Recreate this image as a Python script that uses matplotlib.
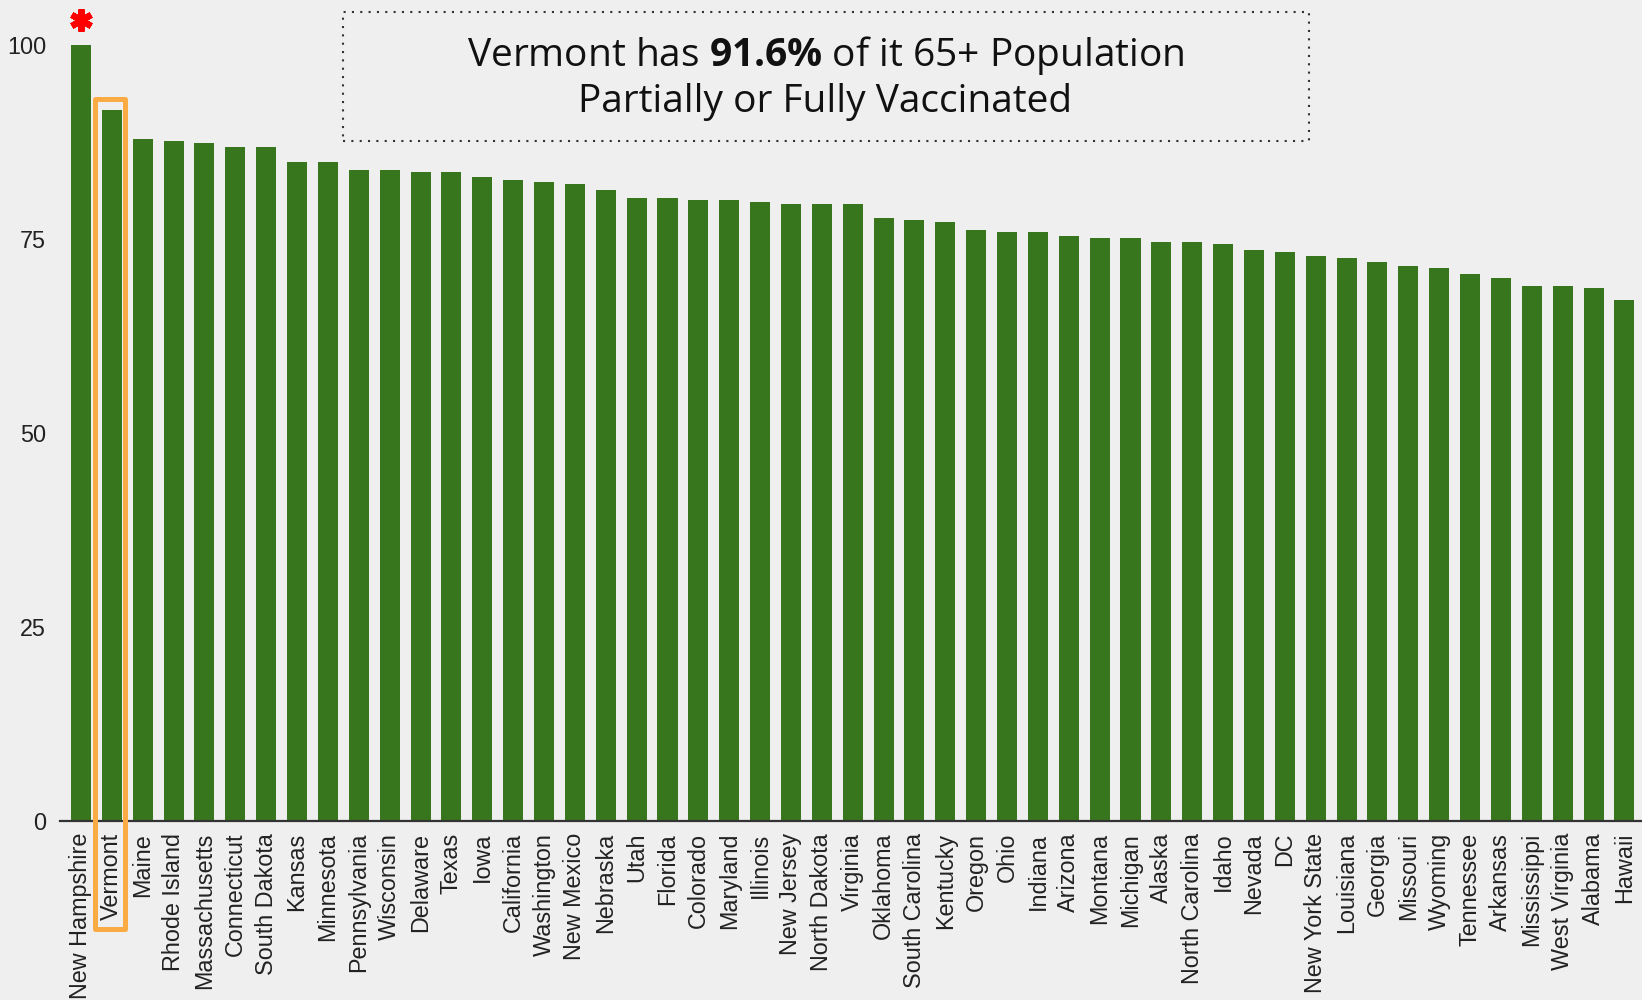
import matplotlib
matplotlib.use("Agg")
import matplotlib.pyplot as plt
from matplotlib.patches import Rectangle

states = ["New Hampshire", "Vermont", "Maine", "Rhode Island", "Massachusetts",
          "Connecticut", "South Dakota", "Kansas", "Minnesota", "Pennsylvania",
          "Wisconsin", "Delaware", "Texas", "Iowa", "California", "Washington",
          "New Mexico", "Nebraska", "Utah", "Florida", "Colorado", "Maryland",
          "Illinois", "New Jersey", "North Dakota", "Virginia", "Oklahoma",
          "South Carolina", "Kentucky", "Oregon", "Ohio", "Indiana", "Arizona",
          "Montana", "Michigan", "Alaska", "North Carolina", "Idaho", "Nevada",
          "DC", "New York State", "Louisiana", "Georgia", "Missouri", "Wyoming",
          "Tennessee", "Arkansas", "Mississippi", "West Virginia", "Alabama", "Hawaii"]

values = [100, 91.6, 87.8, 87.55, 87.3, 86.8, 86.8, 84.9, 84.9, 83.9,
          83.9, 83.6, 83.6, 82.9, 82.6, 82.35, 82.1, 81.3, 80.3, 80.3,
          80.0, 80.0, 79.8, 79.5, 79.5, 79.5, 77.7, 77.4, 77.2, 76.1,
          75.9, 75.9, 75.4, 75.1, 75.1, 74.6, 74.6, 74.3, 73.5, 73.3,
          72.8, 72.5, 72.0, 71.5, 71.2, 70.5, 69.9, 68.9, 68.9, 68.7, 67.1]

yticks = [0, 25, 50, 75, 100]
highlight = "Vermont"
starred = "New Hampshire"

BG = "#efefef"
GREEN = "#38761d"
ORANGE = "#fbab44"

plt.rcParams['mathtext.fontset'] = 'custom'
plt.rcParams['mathtext.rm'] = 'Open Sans'
plt.rcParams['mathtext.bf'] = 'Open Sans:bold'

W, H = 1642, 1000
fig = plt.figure(figsize=(W / 100, H / 100), dpi=100, facecolor=BG)
ax = fig.add_axes([60 / W, 1 - 821 / H, 1582 / W, (821 - 44.7) / H])
ax.set_facecolor(BG)

x = list(range(len(states)))
ax.bar(x, values, width=0.65, color=GREEN, zorder=2)

ax.set_xlim(-0.68, len(states) - 1 + 0.57)
ax.set_ylim(0, 100)
ax.set_yticks(yticks)
ax.set_yticklabels([str(t) for t in yticks])
ax.set_xticks(x)
ax.set_xticklabels(states, rotation=90, ha='center', va='top')

for s in ["top", "right", "left"]:
    ax.spines[s].set_visible(False)
ax.spines["bottom"].set_color("#333333")
ax.spines["bottom"].set_linewidth(1.6)
ax.spines["bottom"].set_zorder(3)

ax.tick_params(axis='both', length=0, colors="#222222")
ax.tick_params(axis='x', pad=8.5)
ax.tick_params(axis='y', pad=10)
for lab in ax.get_xticklabels() + ax.get_yticklabels():
    lab.set_fontfamily("Liberation Sans")
    lab.set_fontsize(16.8)
    lab.set_color("#222222")

# highlight box around Vermont
vi = states.index(highlight)
rect = Rectangle((vi - 0.54, -13.85), 0.97, values[vi] + 1.45 + 13.85,
                 fill=False, edgecolor=ORANGE, linewidth=3.6,
                 clip_on=False, zorder=4, joinstyle='round')
ax.add_patch(rect)

# red asterisk above New Hampshire
si = states.index(starred)
ax.plot([si], [values[si] + 3.2], marker=(6, 2, 0), markersize=16,
        markeredgewidth=4.5, color="red", clip_on=False, zorder=5)

# title box
bx0, bx1 = 342.7 / W, 1309.3 / W
by0, by1 = 1 - 141 / H, 1 - 11.7 / H
fig.add_artist(Rectangle((bx0, by0), bx1 - bx0, by1 - by0, transform=fig.transFigure,
                         fill=False, edgecolor="#333333", linewidth=1.5,
                         linestyle=(0, (1, 3))))
cx = 825.5 / W
fig.text(cx, 1 - 66 / H, r"Vermont has $\mathbf{91.6\%}$ of it 65+ Population",
         ha='center', va='baseline', fontsize=28, family="Open Sans", color="#111111")
fig.text(cx, 1 - 111.7 / H, "Partially or Fully Vaccinated",
         ha='center', va='baseline', fontsize=28, family="Open Sans", color="#111111")

fig.savefig("out.png", dpi=100, facecolor=BG)
